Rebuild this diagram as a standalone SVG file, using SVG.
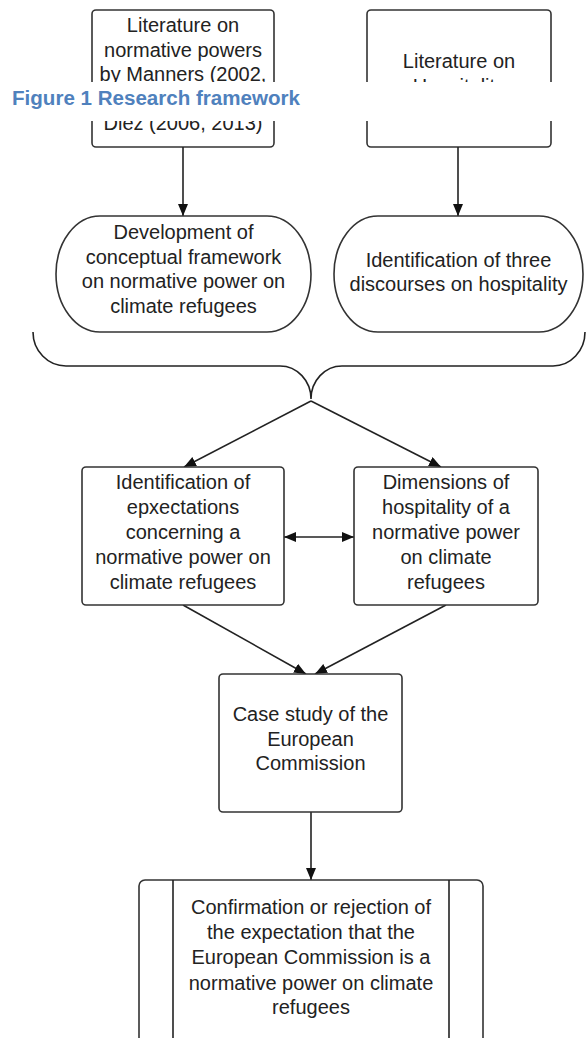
<svg xmlns="http://www.w3.org/2000/svg" width="586" height="1038" viewBox="0 0 586 1038">
<style>
.box{fill:#fff;stroke:#333;stroke-width:1.6}
.t{font-family:"Liberation Sans",Arial,sans-serif;font-size:20px;fill:#222;text-anchor:middle}
.c{fill:none;stroke:#222;stroke-width:1.6}
.cap{font-family:"Liberation Sans",Arial,sans-serif;font-size:20px;font-weight:bold;fill:#4F81BD}
</style>
<defs>
<marker id="ah" viewBox="0 0 12 10" markerWidth="12" markerHeight="10" refX="12" refY="5" markerUnits="userSpaceOnUse" orient="auto-start-reverse">
<path d="M0,0 L12,5 L0,10 z" fill="#111"/>
</marker>
</defs>
<rect width="586" height="1038" fill="#fff"/>
<g id="lit-normative">
<rect class="box" x="92" y="10" width="182" height="137" rx="4"/>
<text class="t"><tspan x="183" y="32">Literature on</tspan><tspan x="183" y="56.5">normative powers</tspan><tspan x="183" y="81">by Manners (2002,</tspan><tspan x="183" y="130">Diez (2006, 2013)</tspan></text>
</g>
<g id="lit-hospitality">
<rect class="box" x="367" y="10" width="184" height="137" rx="4"/>
<text class="t"><tspan x="459" y="68">Literature on</tspan><tspan x="459" y="92.5">Hospitality</tspan></text>
</g>
<g id="caption">
<rect x="0" y="82" width="586" height="39" fill="#fff"/>
<text class="cap" x="12" y="105" textLength="288" lengthAdjust="spacingAndGlyphs">Figure 1 Research framework</text>
</g>
<g id="connectors">
<line class="c" x1="183" y1="147" x2="183" y2="216" marker-end="url(#ah)"/>
<line class="c" x1="458" y1="147" x2="458" y2="216" marker-end="url(#ah)"/>
<path class="c" d="M33,332 A33,34 0 0 0 66,366 L280,366 A31,33 0 0 1 311,399 A31,33 0 0 1 342,366 L553,366 A32,34 0 0 0 585,332"/>
<line class="c" x1="311" y1="401" x2="184" y2="467" marker-end="url(#ah)"/>
<line class="c" x1="311" y1="401" x2="441" y2="467" marker-end="url(#ah)"/>
<line class="c" x1="284" y1="537" x2="354" y2="537" marker-start="url(#ah)" marker-end="url(#ah)"/>
<line class="c" x1="183" y1="605" x2="306" y2="674" marker-end="url(#ah)"/>
<line class="c" x1="446" y1="605" x2="315" y2="674" marker-end="url(#ah)"/>
<line class="c" x1="311" y1="812" x2="311" y2="880" marker-end="url(#ah)"/>
</g>
<g id="framework">
<rect class="box" x="56" y="216" width="255" height="116" rx="44" ry="58"/>
<text class="t"><tspan x="183.5" y="239">Development of</tspan><tspan x="183.5" y="263.5">conceptual framework</tspan><tspan x="183.5" y="288">on normative power on</tspan><tspan x="183.5" y="312.5">climate refugees</tspan></text>
</g>
<g id="discourses">
<rect class="box" x="334" y="216" width="249" height="116" rx="44" ry="58"/>
<text class="t"><tspan x="458.5" y="267">Identification of three</tspan><tspan x="458.5" y="291">discourses on hospitality</tspan></text>
</g>
<g id="expectations">
<rect class="box" x="82" y="467" width="202" height="138" rx="4"/>
<text class="t"><tspan x="183" y="489">Identification of</tspan><tspan x="183" y="514">epxectations</tspan><tspan x="183" y="539">concerning a</tspan><tspan x="183" y="564">normative power on</tspan><tspan x="183" y="589">climate refugees</tspan></text>
</g>
<g id="dimensions">
<rect class="box" x="354" y="467" width="184" height="138" rx="4"/>
<text class="t"><tspan x="446" y="489">Dimensions of</tspan><tspan x="446" y="514">hospitality of a</tspan><tspan x="446" y="539">normative power</tspan><tspan x="446" y="564">on climate</tspan><tspan x="446" y="589">refugees</tspan></text>
</g>
<g id="case-study">
<rect class="box" x="219" y="674" width="183" height="138" rx="4"/>
<text class="t"><tspan x="310.5" y="721">Case study of the</tspan><tspan x="310.5" y="746">European</tspan><tspan x="310.5" y="770">Commission</tspan></text>
</g>
<g id="confirmation">
<rect class="box" x="139" y="880" width="344" height="180" rx="6"/>
<line class="c" x1="173" y1="880" x2="173" y2="1060"/>
<line class="c" x1="449" y1="880" x2="449" y2="1060"/>
<text class="t"><tspan x="311" y="914">Confirmation or rejection of</tspan><tspan x="311" y="939">the expectation that the</tspan><tspan x="311" y="964">European Commission is a</tspan><tspan x="311" y="989.5">normative power on climate</tspan><tspan x="311" y="1014">refugees</tspan></text>
</g>
</svg>
